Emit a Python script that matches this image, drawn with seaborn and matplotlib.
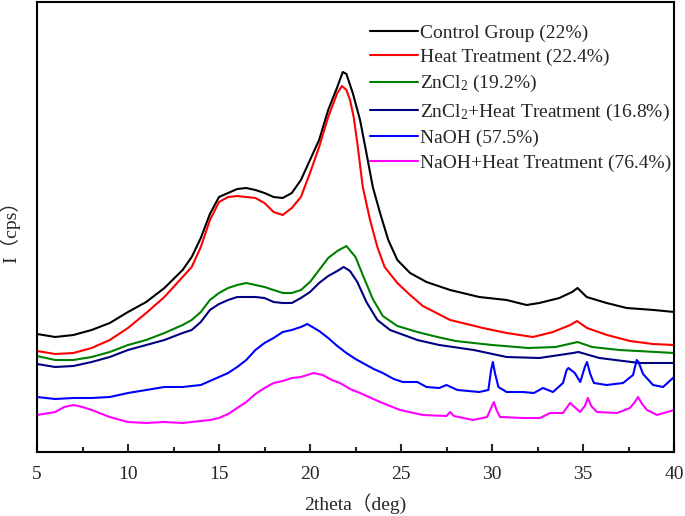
import seaborn as sns
import matplotlib.pyplot as plt
from matplotlib.ticker import MultipleLocator

# XRD patterns (intensity in arbitrary units)
theta_control = [5, 6, 7, 8, 9, 10, 11, 12, 13, 13.5,
                 14, 14.5, 15, 15.5, 16, 16.5, 17, 17.5, 18, 18.5,
                 19, 19.5, 20, 20.5, 21, 21.5, 21.8, 22.0, 22.35, 22.75,
                 23.1, 23.45, 23.85, 24.3, 24.8, 25.5, 26.4, 27.7, 29.3, 30.8,
                 31.9, 32.6, 33.7, 34.4, 34.7, 35.2, 36.3, 37.4, 38.9, 40]
i_control = [118, 115, 117, 122, 129, 140, 150, 164, 182, 195,
             214, 238, 255, 259, 263, 264, 262, 259, 255, 254,
             259, 272, 292, 312, 342, 365, 380, 378, 359, 332,
             299, 265, 239, 212, 192, 179, 170, 162, 155, 152,
             147, 149, 154, 160, 164, 155, 149, 144, 142, 140]

theta_heat = [5, 6, 7, 8, 9, 10, 11, 12, 13, 13.5,
              14, 14.5, 15, 15.5, 16, 16.5, 17, 17.5, 18, 18.5,
              19, 19.5, 20, 20.5, 21, 21.5, 21.76, 22.0, 22.2, 22.4,
              22.6, 22.9, 23.3, 23.7, 24.1, 24.8, 25.5, 26.2, 27.7, 29.5,
              30.8, 32.25, 33.35, 34.3, 34.67, 35.22, 36.32, 37.58, 38.85, 40]
i_heat = [101, 98, 99, 104, 112, 124, 139, 155, 175, 185,
          205, 232, 250, 255, 256, 255, 254, 249, 240, 237,
          244, 255, 279, 305, 335, 359, 366, 362, 352, 335,
          309, 265, 232, 205, 185, 169, 157, 146, 132, 124,
          119, 115, 120, 127, 131, 124, 117, 111, 108, 107]

theta_zncl2 = [5, 6, 7, 8, 9, 10, 11, 12, 13, 13.5,
               14, 14.5, 15, 15.5, 16, 16.5, 17, 17.5, 18, 18.5,
               19, 19.5, 20, 20.5, 21, 21.5, 22, 22.5, 22.9, 23.45,
               24.0, 24.8, 25.9, 27, 28, 30, 32, 33.5, 34.7, 35.5,
               37, 40]
i_zncl2 = [96, 92, 92, 95, 100, 107, 112, 119, 127, 132,
           140, 152, 159, 164, 167, 169, 167, 165, 162, 159,
           159, 162, 170, 182, 194, 201, 206, 195, 177, 153,
           136, 126, 120, 115, 111, 107, 104, 105, 110, 105,
           102, 99]

theta_zncl2_heat = [5, 6, 7, 8, 9, 10, 11, 12, 13, 13.5,
                    14, 14.5, 15, 15.5, 16, 16.5, 17, 17.5, 18, 18.5,
                    19, 19.5, 20, 20.5, 21, 21.5, 21.85, 22.2, 22.6, 23.1,
                    23.7, 24.4, 25.9, 27.1, 29, 30.8, 32.6, 34.45, 34.75, 35.9,
                    38.1, 40]
i_zncl2_heat = [88, 85, 86, 90, 95, 102, 107, 112, 119, 122,
                130, 142, 148, 152, 155, 155, 155, 154, 150, 149,
                149, 154, 160, 169, 176, 181, 185, 181, 170, 150,
                132, 122, 112, 107, 102, 95, 94, 99, 100, 94,
                89, 89]

theta_naoh = [5, 6, 7, 8, 9, 10, 11, 12, 13, 14,
              14.5, 15, 15.5, 16, 16.5, 17, 17.5, 18, 18.5, 19,
              19.5, 19.85, 20.5, 21, 21.5, 22, 22.5, 23, 23.5, 24,
              24.6, 25.1, 25.9, 26.4, 27.1, 27.5, 28.1, 29.3, 29.8, 29.95,
              30.05, 30.15, 30.35, 30.8, 31.7, 32.3, 32.8, 33.35, 33.9, 34.1,
              34.2, 34.55, 34.85, 35.1, 35.22, 35.4, 35.6, 36.3, 37.2, 37.75,
              37.95, 38.05, 38.3, 38.85, 39.4, 40]
i_naoh = [55, 53, 54, 54, 55, 59, 62, 65, 65, 67,
          71, 75, 79, 85, 92, 102, 109, 114, 120, 122,
          125, 128, 121, 114, 106, 99, 93, 88, 83, 79,
          73, 70, 70, 65, 64, 67, 62, 60, 62, 82,
          90, 80, 65, 60, 60, 59, 64, 60, 69, 82,
          84, 79, 70, 85, 90, 78, 69, 67, 69, 77,
          92, 90, 78, 67, 65, 75]

theta_naoh_heat = [5, 6, 6.5, 7, 7.5, 8, 9, 10, 11, 12,
                   13, 14, 14.5, 15, 15.5, 16, 16.5, 17, 17.5, 18,
                   18.5, 19, 19.5, 20.2, 20.7, 21.2, 21.65, 22.2, 22.75, 23.85,
                   24.95, 26.2, 27.5, 27.7, 27.9, 28.96, 29.73, 29.95, 30.1, 30.25,
                   30.44, 31.7, 32.64, 33.19, 33.9, 34.29, 34.84, 35.1, 35.27, 35.45,
                   35.77, 36.87, 37.58, 37.85, 38.02, 38.25, 38.52, 39.07, 40]
i_naoh_heat = [37, 40, 45, 47, 45, 42, 35, 30, 29, 30,
               29, 31, 32, 34, 38, 44, 50, 58, 64, 69,
               71, 74, 75, 79, 77, 72, 69, 63, 59, 50,
               42, 37, 36, 40, 36, 32, 35, 44, 50, 42,
               35, 34, 34, 39, 39, 49, 40, 46, 54, 46,
               40, 39, 44, 50, 55, 48, 42, 37, 42]

labels = ['Control Group (22%)', 'Heat Treatment (22.4%)', 'ZnCl$_2$ (19.2%)',
          'ZnCl$_2$+Heat Treatment (16.8%)', 'NaOH (57.5%)', 'NaOH+Heat Treatment (76.4%)']
colors = ['black', '#FF0000', '#008000', '#000080', '#0000FF', '#FF00FF']

sns.set_style("white")
plt.rcParams['font.family'] = ['Liberation Serif', 'Noto Sans CJK SC']
plt.rcParams['mathtext.fontset'] = 'custom'
plt.rcParams['mathtext.rm'] = 'Liberation Serif'
plt.rcParams['mathtext.default'] = 'regular'

fig = plt.figure(figsize=(6.85, 5.16), dpi=100)
ax = fig.add_axes([37 / 685, 64 / 516, 637 / 685, 450 / 516])

series = [(theta_control, i_control), (theta_heat, i_heat), (theta_zncl2, i_zncl2),
          (theta_zncl2_heat, i_zncl2_heat), (theta_naoh, i_naoh), (theta_naoh_heat, i_naoh_heat)]
for (x, y), c, lab in zip(series, colors, labels):
    sns.lineplot(x=x, y=y, color=c, label=lab, linewidth=1.5, estimator=None, ax=ax)

ax.set_xlim(5, 40)
ax.set_ylim(0, 450)
ax.set_xticks(range(5, 41, 5))
ax.xaxis.set_minor_locator(MultipleLocator(2.5))
ax.set_yticks([])
ax.tick_params(axis='x', which='major', direction='in', length=6, width=1.5,
               labelsize=14, pad=10, bottom=True)
ax.tick_params(axis='x', which='minor', direction='in', length=3.5, width=1.5, bottom=True)
for s in ax.spines.values():
    s.set_linewidth(1.5)
    s.set_color('black')

ax.set_xlabel('2theta（deg)', fontsize=14, labelpad=7.5)
ax.set_ylabel('I（cps）', fontsize=14, labelpad=12)

ax.legend(loc='upper left', bbox_to_anchor=((370 - 37) / 637, (452 - 24) / 450),
          frameon=False, fontsize=14, handlelength=2.45, handletextpad=0.1,
          labelspacing=0.36, borderpad=0, borderaxespad=0)

fig.savefig('out.png', dpi=100)
